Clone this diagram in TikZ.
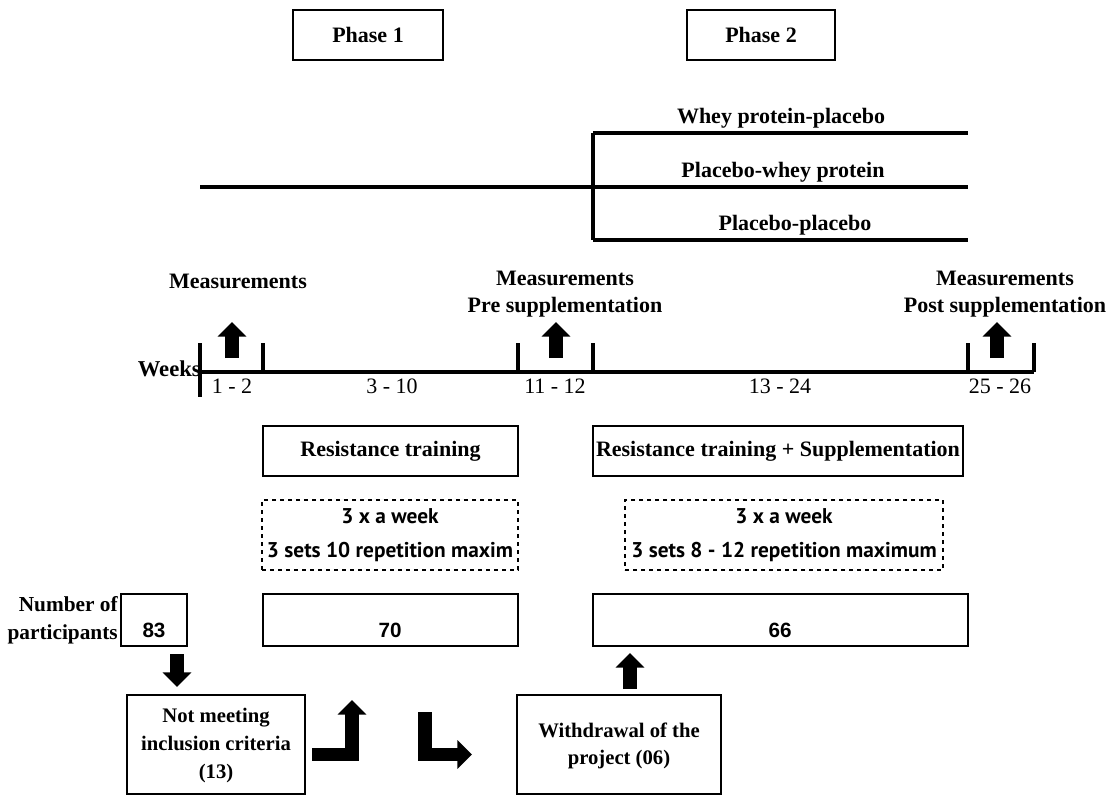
\documentclass[tikz,border=0pt]{standalone}
\usepackage{fontspec}
\setmainfont{Liberation Serif}
\newfontfamily\numfont{Liberation Sans}
\newfontfamily\setsfont{PT Sans}
\usetikzlibrary{arrows.meta,positioning}

\tikzset{
  lbl/.style={font=\bfseries\fontsize{16.5}{20}\selectfont, align=center, inner sep=0pt},
  wk/.style={font=\fontsize{16.5}{18}\selectfont, inner sep=0pt},
  pbox/.style 2 args={draw, line width=1.5pt, minimum width=#1*0.75pt, minimum height=#2*0.75pt, inner sep=0pt},
  dbox/.style 2 args={draw, dashed, line width=0.8pt, minimum width=#1*0.75pt, minimum height=#2*0.75pt, inner sep=0pt},
  num/.style={font=\numfont\bfseries\fontsize{15.5}{17}\selectfont, inner sep=0pt},
  sets/.style={font=\setsfont\bfseries\fontsize{16}{25}\selectfont, align=center, inner sep=0pt},
  thick line/.style={line width=3pt},
  blockarrow/.style={line width=10pt, miter limit=10, -{Triangle[length=11pt,width=21pt]}},
}

\begin{document}
\begin{tikzpicture}[x=0.75pt,y=-0.75pt]
    \useasboundingbox (0,0) rectangle (1111,796);

    % phases
    \node[pbox={150}{50}, line width=2.2pt, lbl] (phase1) at (368,35) {Phase 1};
    \node[pbox={148}{50}, line width=2.2pt, lbl] (phase2) at (761,35) {Phase 2};

    % groups
    \coordinate (start) at (200,187);
    \coordinate (split) at (593,187);
    \draw[thick line] (start) -- (split);
    \draw[thick line] (593,133) -- (593,240);
    \foreach \y in {133,187,240}
        \draw[thick line] (593,\y) -- (968,\y);
    \node[lbl] (whey) at (781,118) {Whey protein-placebo};
    \node[lbl] (plwhey) at (783,172) {Placebo-whey protein};
    \node[lbl] (plpl) at (795,225) {Placebo-placebo};

    % timeline
    \draw[thick line] (200,372) -- (1034,372);
    \draw[thick line] (200,343) -- (200,397);
    \foreach \x in {263,518,593,968,1034}
        \draw[thick line] (\x,372) -- (\x,343);
    \node[lbl, anchor=east, font=\bfseries\fontsize{17}{20}\selectfont] (weeks) at (201,369) {Weeks};
    \foreach \x/\t in {232/1 - 2, 392/3 - 10, 555/11 - 12, 780/13 - 24, 1000/25 - 26}
        \node[wk] at (\x,386) {\t};

    \foreach \x in {232,556,997}
        \draw[blockarrow] (\x,358) -- (\x,322);
    \node[lbl] (meas1) at (238,281) {Measurements};
    \node[lbl] (meas2) at (565,294) {Measurements\\Pre supplementation};
    \node[lbl] (meas3) at (1005,294) {Measurements\\Post supplementation};

    % training
    \node[pbox={255}{50}, line width=2.2pt, lbl] (rt) at (390.5,451) {Resistance training};
    \node[pbox={370}{50}, line width=2.2pt, lbl] (rts) at (778,451) {Resistance training + Supplementation};
    \node[dbox={256}{70}, sets] (freq1) at (390,535) {3 x a week\\3 sets 10 repetition maxim};
    \node[dbox={318}{70}, sets] (freq2) at (784,535) {3 x a week\\3 sets 8 - 12 repetition maximum};

    % participants
    \node[lbl, align=right, anchor=east, font=\bfseries\fontsize{16}{21}\selectfont] (npart) at (118,620) {Number of\\participants};
    \node[pbox={66}{52}] (n83) at (154,620) {};
    \node[num] at (154,630) {83};
    \node[pbox={255}{52}] (n70) at (390.5,620) {};
    \node[num] at (390,630) {70};
    \node[pbox={375}{52}] (n66) at (780.5,620) {};
    \node[num] at (780,630) {66};

    \node[pbox={178}{99}] (nm) at (216,744.5) {};
    \node[lbl, font=\bfseries\fontsize{15.5}{21}\selectfont] (nmtext) at (216,746) {Not meeting\\inclusion criteria\\(13)};
    \node[pbox={204}{99}] (wd) at (619,744.5) {};
    \node[lbl, font=\bfseries\fontsize{15.5}{20}\selectfont] (wdtext) at (619,746) {Withdrawal of the\\project (06)};

    \draw[blockarrow] ([shift={(23,7)}]n83.south) -- ([shift={(23,-7)}]n83.south |- nm.north);
    \coordinate (up70) at (352,700);
    \draw[blockarrow] ([shift={(6,10)}]nm.east) -| (up70);
    \coordinate (bend2) at (425,712);
    \draw[blockarrow] (bend2) |- ([shift={(-44,10)}]wd.west);
    \draw[blockarrow] ([shift={(11,-5)}]wd.north) -- ([shift={(11,6)}]wd.north |- n66.south);

\end{tikzpicture}
\end{document}
